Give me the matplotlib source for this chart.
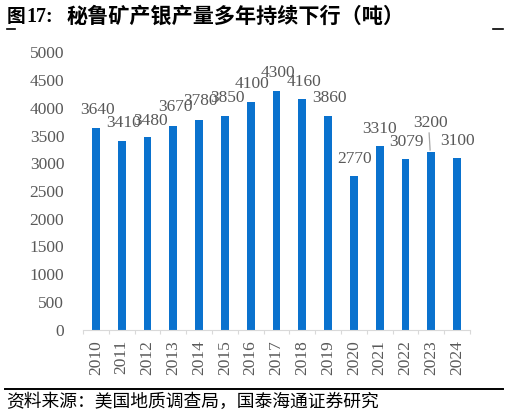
import matplotlib
matplotlib.use('Agg')
import matplotlib.pyplot as plt
import numpy as np

# data
years = [str(y) for y in range(2010, 2025)]
output_t = [3640, 3410, 3480, 3670, 3780, 3850, 4100, 4300, 4160, 3860, 2770, 3310, 3079, 3200, 3100]
title = '秘鲁矿产银产量多年持续下行（吨）'
source = '资料来源：美国地质调查局，国泰海通证券研究'

# label placement (pixels relative to bar top centre)
label_dx = [2, 1.4, 3, 2.4, 1.6, 2.2, 1.3, 1, 2, 1.3, 0.4, 0, 0.7, -1, 0.7]
label_dy = [13.8, 13.6, 11.7, 15.2, 15.1, 14.5, 14.4, 14.3, 13, 13.7, 12.7, 13.4, 12.9, 25.2, 12.8]

BAR_COL = '#0A72CE'
TXT_COL = '#595959'
SERIF = 'Liberation Serif'
CJK = ['Noto Sans CJK SC', 'DejaVu Sans']

W, H = 509, 415
fig = plt.figure(figsize=(W / 100, H / 100), dpi=100)
ax = fig.add_axes([83 / W, (H - 329.5) / H, (470 - 83) / W, (329.5 - 52.5) / H])

x = np.arange(len(years))
ax.bar(x, output_t, width=0.31, color=BAR_COL, edgecolor='none', zorder=2)

for i, v in enumerate(output_t):
    ax.annotate(str(v), xy=(i, v), xytext=(label_dx[i] * 0.72, label_dy[i] * 0.72),
                textcoords='offset points', ha='center', va='baseline',
                fontsize=12.5, family=SERIF, color=TXT_COL)

# leader line for the 2023 label
i23 = years.index('2023')
ax.plot([i23 - 0.085, i23 - 0.046], [output_t[i23] + 347, output_t[i23] + 40],
        color='#A6A6A6', lw=0.9)

ax.set_xlim(-0.5, len(years) - 0.5)
ax.set_ylim(0, 5000)
ax.set_yticks(range(0, 5001, 500))
ax.set_yticklabels([str(t) for t in range(0, 5001, 500)], family=SERIF, fontsize=12.5, color=TXT_COL)
ax.set_xticks(x)
ax.set_xticklabels(years, rotation=90, family=SERIF, fontsize=12.5, color=TXT_COL)
ax.set_xticks(np.arange(-0.5, len(years)), minor=True)
ax.tick_params(axis='y', length=0, pad=13.5)
ax.tick_params(axis='x', which='major', length=0, pad=7.5)
ax.tick_params(axis='x', which='minor', length=3, color='#D9D9D9', width=0.8)

for s in ['top', 'right', 'left']:
    ax.spines[s].set_visible(False)
ax.spines['bottom'].set_color('#D9D9D9')
ax.spines['bottom'].set_linewidth(0.8)

# title
fig.text(7 / W, 1 - 16.5 / H, '图', family=CJK, fontsize=13.5, weight='bold', va='center', ha='left')
fig.text(26 / W, 1 - 16.5 / H, '17:', family=SERIF, fontsize=14.5, weight='bold', va='center', ha='left')
fig.text(67 / W, 1 - 16.5 / H, title, family=CJK, fontsize=15.2, weight='bold', va='center', ha='left')

# decorative short rules under the title
fig.add_artist(plt.Line2D([7 / W, 15 / W], [1 - 29.5 / H] * 2, color='k', lw=1.2))
fig.add_artist(plt.Line2D([493 / W, 503 / W], [1 - 29.5 / H] * 2, color='k', lw=1.2))

# bottom rule and source
fig.add_artist(plt.Line2D([5 / W, 503 / W], [1 - 389.3 / H] * 2, color='k', lw=1.4))
fig.text(6 / W, 1 - 401.5 / H, source, family=CJK, fontsize=12.8, va='center', ha='left')

fig.savefig('out.png', dpi=100)
